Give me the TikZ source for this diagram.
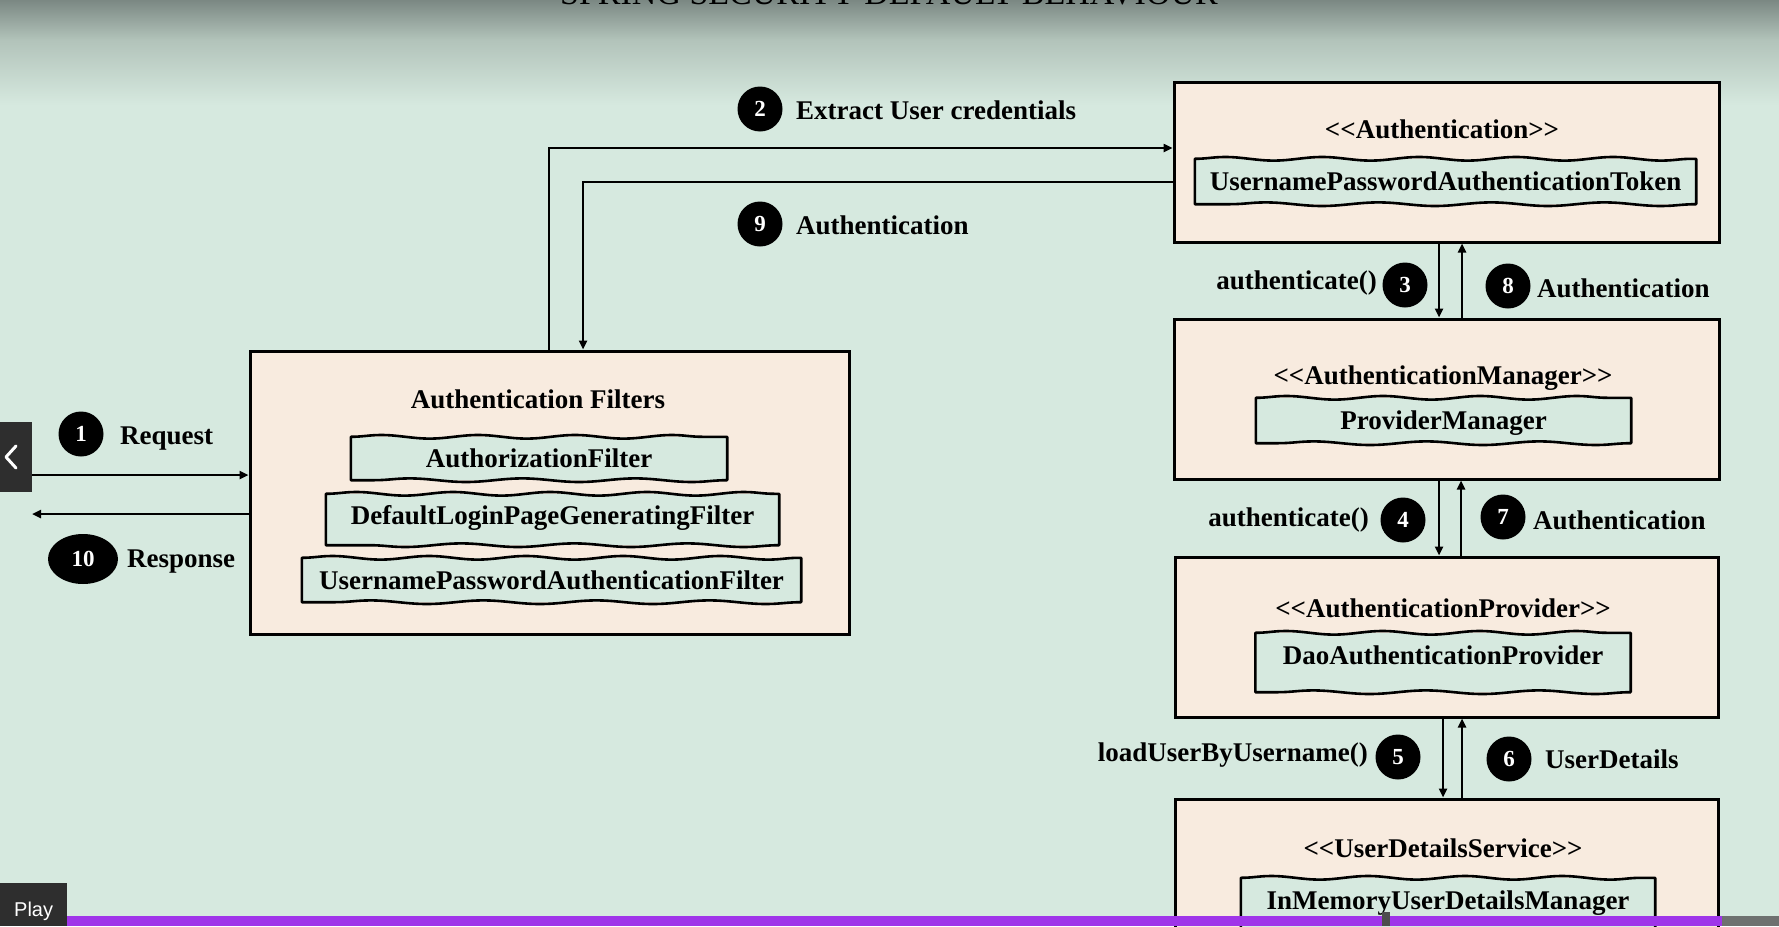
\documentclass[tikz,border=0pt]{standalone}
\usepackage{fontspec}
\setmainfont{Liberation Serif}
\newfontfamily\uisans{Liberation Sans}
\usetikzlibrary{arrows.meta,decorations.pathmorphing,shapes.geometric}
\definecolor{mint}{HTML}{D6E9DF}
\definecolor{topgray}{HTML}{7B8883}
\definecolor{midgray}{HTML}{B2C3BA}
\definecolor{cream}{HTML}{F8EBDF}
\definecolor{purplebar}{HTML}{9F35E9}
\definecolor{uidark}{HTML}{2E2E2E}
\definecolor{uigray}{HTML}{6E7170}
\newcommand\dlt{<\kern0pt<}
\newcommand\dgt{>\kern0pt>}
% hand-drawn looking frame around a named node
\newcommand\wavyframe[1]{%
  \draw[line width=2.6pt, line join=round]
    (#1.north west)
    decorate[decoration={snake, amplitude=1.8pt, segment length=97pt}]{-- (#1.north east)}
    -- (#1.south east)
    decorate[decoration={snake, amplitude=1.8pt, segment length=113pt}]{-- (#1.south west)}
    -- cycle;}
\begin{document}
\begin{tikzpicture}[x=1pt,y=-1pt,
  outerbox/.style={draw=black, line width=3pt, fill=cream, rectangle, inner sep=0pt},
  wavybox/.style={fill=mint, rectangle, inner sep=0pt,
    text height=18pt, text depth=0pt, font=\fontsize{27}{30}\selectfont\bfseries},
  labelt/.style={inner sep=0pt, text height=18pt, text depth=0pt, font=\fontsize{27}{30}\selectfont\bfseries},
  num/.style={circle, fill=black, minimum size=45pt, inner sep=0pt, text=white, font=\fontsize{23}{23}\selectfont\bfseries},
  arr/.style={line width=2.5pt, -{Triangle[length=9pt,width=8pt]}}
]
\useasboundingbox (0,0) rectangle (1779,926);
\begin{scope}
\clip (0,0) rectangle (1779,926);
% background
\fill[mint] (0,0) rectangle (1779,926);
\shade[top color=topgray, bottom color=midgray] (0,0) rectangle (1779,40);
\shade[top color=midgray, bottom color=mint] (0,40) rectangle (1779,105);
% title (cut off at the top)
\node[anchor=base, inner sep=0pt, text=black, font=\fontsize{34}{34}\selectfont] (title) at (889,5) {SPRING SECURITY DEFAULT BEHAVIOUR};

% Authentication filters
\node[outerbox, minimum width=599pt, minimum height=283pt] (filt) at (549.5,492.5) {};
\node[labelt] (filtT) at (538,399) {Authentication Filters};
\node[wavybox, minimum width=376pt, minimum height=43pt] (f1) at (539,458.5) {AuthorizationFilter};
\node[wavybox, minimum width=453pt, minimum height=51pt, text depth=8pt] (f2) at (552.5,519.5) {DefaultLoginPageGeneratingFilter};
\node[wavybox, minimum width=499pt, minimum height=44pt] (f3) at (551.5,580) {UsernamePasswordAuthenticationFilter};
\wavyframe{f1}\wavyframe{f2}\wavyframe{f3}

% Authentication
\node[outerbox, minimum width=545pt, minimum height=160pt] (auth) at (1446.5,162) {};
\node[labelt] (authT) at (1442,129) {\dlt Authentication\dgt};
\node[wavybox, minimum width=501pt, minimum height=45pt] (tok) at (1445.5,181.5) {UsernamePasswordAuthenticationToken};
\wavyframe{tok}

% AuthenticationManager
\node[outerbox, minimum width=545pt, minimum height=160pt] (mgr) at (1446.5,399) {};
\node[labelt] (mgrT) at (1443,375) {\dlt AuthenticationManager\dgt};
\node[wavybox, minimum width=375pt, minimum height=45pt] (pm) at (1443.5,420.5) {ProviderManager};
\wavyframe{pm}

% AuthenticationProvider
\node[outerbox, minimum width=543pt, minimum height=160pt] (prov) at (1446.5,637) {};
\node[labelt] (provT) at (1443,608) {\dlt AuthenticationProvider\dgt};
\node[wavybox, minimum width=375pt, minimum height=59pt, text depth=14pt] (dao) at (1443,662.5) {DaoAuthenticationProvider};
\wavyframe{dao}

% UserDetailsService
\node[outerbox, minimum width=543pt, minimum height=160pt] (uds) at (1446.5,879) {};
\node[labelt] (udsT) at (1443,848) {\dlt UserDetailsService\dgt};
\node[wavybox, minimum width=414pt, minimum height=52pt, text depth=8pt] (inm) at (1448,904) {InMemoryUserDetailsManager};
\wavyframe{inm}

% connectors: request / response
\coordinate (reqS) at (32,475);
\coordinate (respE) at (32,514);
\draw[arr] (reqS) -- (reqS -| filt.west);
\draw[arr] (respE -| filt.west) -- (respE);

% connectors: filters <-> authentication
\coordinate (p1) at (549,148);
\coordinate (p2) at (583,182);
\draw[arr] (p1 |- filt.north) -- (p1) -- (p1 -| auth.west);
\draw[arr] (p2 -| auth.west) -- (p2) -- (p2 |- filt.north);

% vertical connectors
\coordinate (d1) at (1439,0); \coordinate (u1) at (1462,0);
\coordinate (d2) at (1439,0); \coordinate (u2) at (1461,0);
\coordinate (d3) at (1443,0); \coordinate (u3) at (1462,0);
\draw[arr] (d1 |- auth.south) -- (d1 |- mgr.north);
\draw[arr] (u1 |- mgr.north) -- (u1 |- auth.south);
\draw[arr] (d2 |- mgr.south) -- (d2 |- prov.north);
\draw[arr] (u2 |- prov.north) -- (u2 |- mgr.south);
\draw[arr] (d3 |- prov.south) -- (d3 |- uds.north);
\draw[arr] (u3 |- uds.north) -- (u3 |- prov.south);

% step markers and labels
\node[num] (n1) at (81,434) {1};
\node[labelt, anchor=west] (l1) at (120,435) {Request};
\node[ellipse, fill=black, minimum width=70pt, minimum height=50pt, inner sep=0pt, text=white, font=\fontsize{23}{23}\selectfont\bfseries] (n10) at (83,559) {10};
\node[labelt, anchor=west] (l10) at (127,558) {Response};
\node[num] (n2) at (760,109) {2};
\node[labelt, anchor=west] (l2) at (796,110) {Extract User credentials};
\node[num] (n9) at (760,224) {9};
\node[labelt, anchor=west] (l9) at (796,225) {Authentication};
\node[num] (n3) at (1405,285) {3};
\node[labelt, anchor=east] (l3) at (1377,280) {authenticate()};
\node[num] (n8) at (1508,286) {8};
\node[labelt, anchor=west] (l8) at (1537,288) {Authentication};
\node[num] (n4) at (1403,520) {4};
\node[labelt, anchor=east] (l4) at (1369,517) {authenticate()};
\node[num] (n7) at (1503,517) {7};
\node[labelt, anchor=west] (l7) at (1533,520) {Authentication};
\node[num] (n5) at (1398,757) {5};
\node[labelt, anchor=east] (l5) at (1368,752) {loadUserByUsername()};
\node[num] (n6) at (1509,759) {6};
\node[labelt, anchor=west] (l6) at (1545,759) {UserDetails};

% video player overlay
\fill[uidark] (0,422) rectangle (32,492);
\draw[white, line width=3pt, line cap=round, line join=round] (16,446) -- (6,457) -- (16,468);
\fill[purplebar] (67,916) rectangle (1722,926);
\fill[uigray] (1722,916) rectangle (1779,926);
\fill[uidark!85] (1382,912) rectangle (1390,926);
\fill[uidark] (0,883) rectangle (67,926);
\node[anchor=west, inner sep=0pt, text=white, font=\uisans\fontsize{20}{20}\selectfont] (play) at (14,911) {Play};
\end{scope}
\end{tikzpicture}
\end{document}
